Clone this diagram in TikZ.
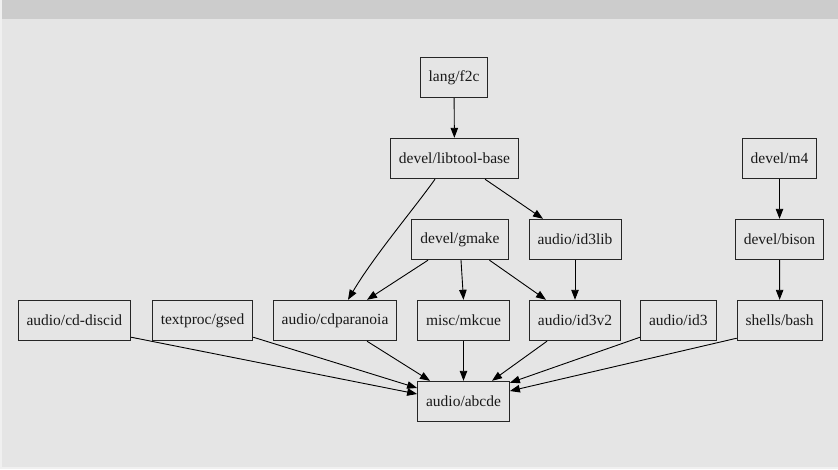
\documentclass[tikz,border=0pt]{standalone}
\usepackage{fontspec}
\setmainfont{Liberation Serif}
\usetikzlibrary{arrows.meta}
\definecolor{bodygray}{RGB}{229,229,229}
\definecolor{bandgray}{RGB}{204,204,204}
\definecolor{edgegray}{RGB}{240,240,240}
\begin{document}
\begin{tikzpicture}[x=1pt,y=-1pt,
  pkg/.style={draw=black!85, line width=0.9pt, rectangle, minimum height=40.5pt,
    inner xsep=8.5pt, inner ysep=0pt, font=\fontsize{15.5}{18}\selectfont, text=black!90},
  arr/.style={line width=0.9pt, black, -{Triangle[length=10pt,width=7.5pt]}}]
\useasboundingbox (0,0) rectangle (838,469);
\fill[edgegray] (0,0) rectangle (838,469);
\fill[bodygray] (2,0) rectangle (838,467);
\fill[bandgray] (2,0) rectangle (838,18.5);

\node[pkg] (f2c) at (454,77.5) {lang/f2c};
\node[pkg] (lib) at (454.5,158.5) {devel/libtool-base};
\node[pkg] (m4) at (779.5,158.5) {devel/m4};
\node[pkg] (gmake) at (460,239.5) {devel/gmake};
\node[pkg] (id3lib) at (575,239.5) {audio/id3lib};
\node[pkg] (bison) at (779.5,239.5) {devel/bison};
\node[pkg] (cddiscid) at (74.3,320.5) {audio/cd-discid};
\node[pkg] (gsed) at (202.5,320.5) {textproc/gsed};
\node[pkg] (cdpar) at (335,320.5) {audio/cdparanoia};
\node[pkg] (mkcue) at (463.5,320.5) {misc/mkcue};
\node[pkg] (id3v2) at (575,320.5) {audio/id3v2};
\node[pkg] (id3) at (678.3,320.5) {audio/id3};
\node[pkg] (bash) at (779.7,320.5) {shells/bash};
\node[pkg] (abcde) at (463.5,401.5) {audio/abcde};

\draw[arr] (f2c) -- (lib);
\draw[arr] ([shift={(-19.5,0)}]lib.south) .. controls ([shift={(-40,29)}]lib.south) and ([shift={(-80,76)}]lib.south) .. ([shift={(13,0)}]cdpar.north);
\draw[arr] ([shift={(30.5,0)}]lib.south) -- ([shift={(-32,0)}]id3lib.north);
\draw[arr] ([shift={(-32,0)}]gmake.south) -- ([shift={(32,0)}]cdpar.north);
\draw[arr] ([shift={(1,0)}]gmake.south) -- (mkcue.north);
\draw[arr] ([shift={(29.5,0)}]gmake.south) -- ([shift={(-29,0)}]id3v2.north);
\draw[arr] (id3lib) -- (id3v2);
\draw[arr] (m4) -- (bison);
\draw[arr] (bison) -- (bash);

\draw[arr] ([shift={(0,-4)}]cddiscid.south east) -- ([shift={(0,-7.5)}]abcde.west);
\draw[arr] ([shift={(0,-4)}]gsed.south east) -- ([shift={(0,-13.5)}]abcde.west);
\draw[arr] ([shift={(32,0)}]cdpar.south) -- ([shift={(-33.5,0)}]abcde.north);
\draw[arr] (mkcue) -- (abcde);
\draw[arr] ([shift={(-28,0)}]id3v2.south) -- ([shift={(28.5,0)}]abcde.north);
\draw[arr] ([shift={(0,-4)}]id3.south west) -- ([shift={(0,2)}]abcde.north east);
\draw[arr] ([shift={(0,-3)}]bash.south west) -- ([shift={(0,-10.5)}]abcde.east);
\end{tikzpicture}
\end{document}
